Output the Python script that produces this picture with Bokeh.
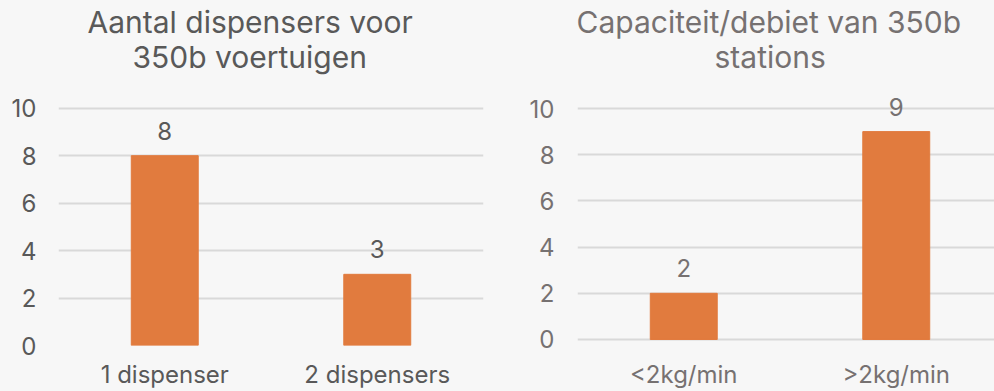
from bokeh.plotting import figure
from bokeh.layouts import row
from bokeh.models import ColumnDataSource, LabelSet, Range1d, FixedTicker, Title
from bokeh.core.properties import value
from bokeh.embed import file_html
from bokeh.resources import INLINE

# Dispenser count per 350 bar station
disp_title = ["Aantal dispensers voor", "350b voertuigen"]
disp_categories = ["1 dispenser", "2 dispensers"]
disp_values = [8, 3]

# Capacity / flow rate of 350 bar stations
cap_title = ["Capaciteit/debiet van 350b", "stations"]
cap_categories = ["<2kg/min", ">2kg/min"]
cap_values = [2, 9]

y_ticks = [0, 2, 4, 6, 8, 10]

FONT = "Inter"
BG = "#F7F7F7"
BAR = "#E17B3E"
GRID = "#D9D9D9"


def bar_chart(title_lines, title_offsets, categories, values, text_color,
              width, border_left, border_right, y_start, y_end,
              x_end, y_standoff):
    xs = [i + 0.5 for i in range(len(categories))]
    src = ColumnDataSource(dict(x=xs, top=values, label=[str(v) for v in values]))
    p = figure(width=width, height=391, output_backend="svg",
               toolbar_location=None, x_range=Range1d(0, x_end),
               y_range=Range1d(y_start, y_end),
               min_border_left=border_left, min_border_right=border_right,
               min_border_top=84, min_border_bottom=46)
    p.vbar(x="x", top="top", bottom=0, width=0.315, source=src, color=BAR)
    p.add_layout(LabelSet(x="x", y="top", text="label", source=src,
                          text_align="center", text_baseline="bottom",
                          y_offset=16, text_font=value(FONT),
                          text_font_size="24px", text_color=text_color))
    p.background_fill_color = BG
    p.border_fill_color = BG
    p.outline_line_color = None

    # two-line heading: the second line sits nearest the plot
    standoffs = [-24, 19]
    for line, off, so in reversed(list(zip(title_lines, title_offsets, standoffs))):
        p.add_layout(Title(text=line, align="left", offset=off, standoff=so,
                           text_font=FONT, text_font_size="30px",
                           text_font_style="normal", text_color=text_color),
                     "above")

    p.xaxis.ticker = FixedTicker(ticks=xs)
    p.xaxis.major_label_overrides = {x: c for x, c in zip(xs, categories)}
    p.yaxis.ticker = FixedTicker(ticks=y_ticks)
    for ax in (p.xaxis, p.yaxis):
        ax.axis_line_color = None
        ax.major_tick_line_color = None
        ax.minor_tick_line_color = None
        ax.major_tick_out = 0
        ax.major_label_text_font = FONT
        ax.major_label_text_font_size = "24px"
        ax.major_label_text_color = text_color
    p.xaxis.major_label_standoff = 14
    p.xaxis.major_label_text_line_height = 1.0
    p.yaxis.major_label_standoff = y_standoff

    p.xgrid.grid_line_color = None
    p.ygrid.ticker = FixedTicker(ticks=y_ticks)
    p.ygrid.grid_line_color = GRID
    p.ygrid.grid_line_width = 2
    return p


left = bar_chart(disp_title, [29, 74], disp_categories, disp_values, "#595959",
                 497, 58, 14, 0, 11, 2.0, 22)
right = bar_chart(cap_title, [-1, 137], cap_categories, cap_values, "#767171",
                  497, 80, 0, -0.26, 11.04, 417 / 212.5, 23)

layout = row(left, right)
layout.styles = {"background-color": BG}
open("out.html", "w").write(file_html(layout, INLINE))
